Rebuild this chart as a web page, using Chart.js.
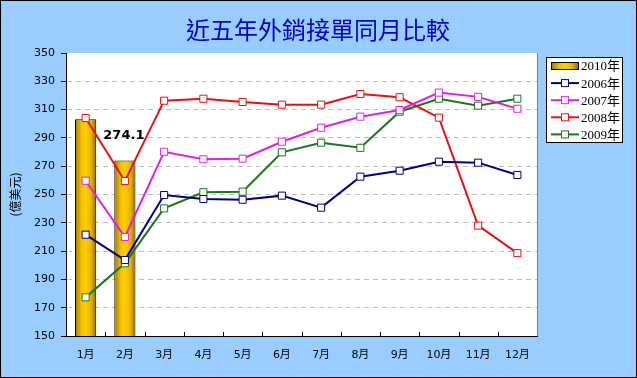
<!DOCTYPE html>
<html>
<head>
<meta charset="utf-8">
<script src="https://cdn.jsdelivr.net/npm/chart.js@4.4.0/dist/chart.umd.min.js"></script>
<style>
  html, body { margin: 0; padding: 0; background: #99CCFF; }
  canvas { display: block; }
</style>
</head>
<body>
<canvas id="chart" width="637" height="378"></canvas>
<script>
// --- Data ---
const months = ['1月', '2月', '3月', '4月', '5月', '6月', '7月', '8月', '9月', '10月', '11月', '12月'];
const sales2010 = [303.1, 274.1, null, null, null, null, null, null, null, null, null, null];
const sales2006 = [221.6, 203.7, 249.6, 246.8, 246.3, 249.2, 240.7, 262.6, 266.8, 273.2, 272.5, 263.8];
const sales2007 = [259.7, 220.0, 280.2, 274.9, 275.3, 287.3, 297.2, 305.0, 309.7, 322.0, 319.0, 310.6];
const sales2008 = [304.0, 259.5, 316.3, 317.7, 315.4, 313.5, 313.5, 321.0, 318.7, 304.3, 228.0, 208.6];
const sales2009 = [177.3, 201.4, 240.2, 251.6, 252.0, 279.8, 286.6, 283.0, 308.5, 317.7, 312.8, 317.7];
const yTicks = [150, 170, 190, 210, 230, 250, 270, 290, 310, 330, 350];
const labeledIndex = 1; // only the latest bar carries a value label

const title = '近五年外銷接單同月比較';
const yTitle = '(億美元)';

// gold gradient across a bar, dark edges and bright centre
function goldGradient(ctx, x0, x1) {
    const g = ctx.createLinearGradient(x0, 0, x1, 0);
    g.addColorStop(0, '#9A7200');
    g.addColorStop(0.3, '#F2C000');
    g.addColorStop(0.5, '#FFD000');
    g.addColorStop(0.75, '#E8B400');
    g.addColorStop(1, '#8A6400');
    return g;
}

function lineSet(label, data, color) {
    return {
        type: 'line',
        label: label,
        data: data,
        borderColor: color,
        borderWidth: 2,
        pointStyle: 'rect',
        pointRadius: 5,
        pointBorderWidth: 1,
        pointBorderColor: color,
        pointBackgroundColor: '#FFFFFF',
        tension: 0,
        order: 1
    };
}

const datasets = [
    {
        type: 'bar',
        label: '2010年',
        data: sales2010,
        borderColor: '#000000',
        borderWidth: 1,
        categoryPercentage: 1,
        barPercentage: 0.54,
        order: 10,
        backgroundColor: function (context) {
            const chart = context.chart;
            if (!chart.chartArea || context.dataIndex === undefined) return '#F2C000';
            const x = chart.scales.x.getPixelForValue(context.dataIndex);
            return goldGradient(chart.ctx, x - 11, x + 11);
        }
    },
    lineSet('2006年', sales2006, '#000080'),
    lineSet('2007年', sales2007, '#E020E0'),
    lineSet('2008年', sales2008, '#E81010'),
    lineSet('2009年', sales2009, '#187818')
];

// background, frame, plot area, title
const framePlugin = {
    id: 'frame',
    beforeDraw(chart) {
        const ctx = chart.ctx;
        const a = chart.chartArea;
        ctx.save();
        ctx.fillStyle = '#99CCFF';
        ctx.fillRect(0, 0, chart.width, chart.height);
        ctx.strokeStyle = '#000000';
        ctx.lineWidth = 1;
        ctx.strokeRect(0.5, 0.5, chart.width - 1, chart.height - 1);
        ctx.fillStyle = '#FFFFFF';
        ctx.fillRect(a.left, a.top, a.right - a.left, a.bottom - a.top);
        ctx.strokeStyle = '#808080';
        ctx.beginPath();
        ctx.moveTo(Math.round(a.right) + 0.5, a.top);
        ctx.lineTo(Math.round(a.right) + 0.5, a.bottom);
        ctx.stroke();
        ctx.fillStyle = '#0000CC';
        ctx.font = '24px "Noto Sans CJK TC"';
        ctx.textAlign = 'center';
        ctx.textBaseline = 'middle';
        ctx.fillText(title, 318, 30);
        ctx.restore();
    },
    afterDraw(chart) {
        // small inside tick marks on the category axis
        const ctx = chart.ctx;
        const x = chart.scales.x;
        const bottom = chart.chartArea.bottom;
        ctx.save();
        ctx.strokeStyle = '#000000';
        ctx.lineWidth = 1;
        for (let i = 1; i < months.length; i++) {
            const px = Math.round((x.getPixelForValue(i) + x.getPixelForValue(i - 1)) / 2) + 0.5;
            ctx.beginPath();
            ctx.moveTo(px, bottom);
            ctx.lineTo(px, bottom - 4);
            ctx.stroke();
        }
        ctx.restore();
    }
};

// value label above the labelled bar
const barLabelPlugin = {
    id: 'barLabel',
    afterDatasetsDraw(chart) {
        const meta = chart.getDatasetMeta(0);
        const bar = meta.data[labeledIndex];
        if (!bar) return;
        const ctx = chart.ctx;
        ctx.save();
        ctx.fillStyle = '#000000';
        ctx.font = 'bold 13px "DejaVu Sans"';
        ctx.textAlign = 'center';
        ctx.textBaseline = 'middle';
        ctx.fillText(sales2010[labeledIndex].toFixed(1), bar.x - 1, bar.y - 25);
        ctx.restore();
    }
};

// boxed legend on the right
const legendPlugin = {
    id: 'boxLegend',
    afterDraw(chart) {
        const ctx = chart.ctx;
        const left = 546, top = 57, w = 76, h = 85;
        ctx.save();
        ctx.fillStyle = '#FFFFFF';
        ctx.fillRect(left, top, w, h);
        ctx.strokeStyle = '#000000';
        ctx.lineWidth = 1;
        ctx.strokeRect(left + 0.5, top + 0.5, w, h);
        ctx.font = '13px "Liberation Serif", "Noto Sans CJK TC"';
        ctx.textBaseline = 'middle';
        chart.data.datasets.forEach(function (ds, i) {
            const y = 66 + i * 17.1;
            if (ds.type === 'bar') {
                ctx.fillStyle = goldGradient(ctx, 551, 579);
                ctx.fillRect(551, y - 4, 28, 8);
                ctx.strokeStyle = '#000000';
                ctx.strokeRect(551.5, y - 3.5, 27, 7);
            } else {
                ctx.strokeStyle = ds.borderColor;
                ctx.lineWidth = 2;
                ctx.beginPath();
                ctx.moveTo(551, y);
                ctx.lineTo(579, y);
                ctx.stroke();
                ctx.lineWidth = 1;
                ctx.fillStyle = '#FFFFFF';
                ctx.fillRect(561, y - 4, 8, 8);
                ctx.strokeRect(561.5, y - 3.5, 7, 7);
            }
            ctx.fillStyle = '#000000';
            ctx.fillText(ds.label, 581, y + 1);
        });
        ctx.restore();
    }
};

new Chart(document.getElementById('chart'), {
    data: { labels: months, datasets: datasets },
    options: {
        responsive: false,
        devicePixelRatio: 1,
        animation: false,
        layout: { padding: { top: 53, right: 100, bottom: 0, left: 0 } },
        plugins: {
            legend: { display: false },
            tooltip: { enabled: false }
        },
        scales: {
            x: {
                offset: true,
                afterFit: function (scale) { scale.height = 42; },
                grid: { display: true, drawOnChartArea: false, drawTicks: false },
                border: { color: '#000000', width: 1 },
                ticks: {
                    color: '#000000',
                    padding: 13,
                    maxRotation: 0,
                    font: { family: '"DejaVu Sans", "Noto Sans CJK TC"', size: 11 }
                }
            },
            y: {
                min: 150,
                max: 350,
                afterFit: function (scale) { scale.width = 66; },
                afterBuildTicks: function (scale) {
                    scale.ticks = yTicks.map(function (v) { return { value: v }; });
                },
                grid: {
                    color: function (c) {
                        return (c.tick && (c.tick.value === 150 || c.tick.value === 350)) ? 'rgba(0,0,0,0)' : '#BDBDBD';
                    },
                    tickColor: '#000000',
                    tickLength: 5
                },
                border: { color: '#000000', width: 1, dash: [5, 4] },
                ticks: {
                    color: '#000000',
                    padding: 6,
                    font: { family: '"DejaVu Sans"', size: 11 }
                },
                title: {
                    display: true,
                    text: yTitle,
                    color: '#000000',
                    padding: { top: 8, bottom: 0 },
                    font: { family: '"Noto Sans CJK TC"', size: 12 }
                }
            }
        }
    },
    plugins: [framePlugin, barLabelPlugin, legendPlugin]
});
</script>
</body>
</html>
